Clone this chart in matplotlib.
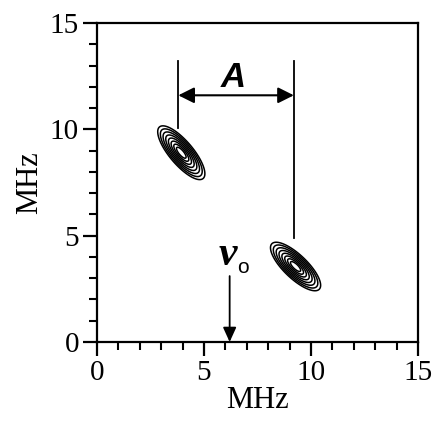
import numpy as np
import matplotlib.pyplot as plt
from matplotlib.ticker import MultipleLocator

plt.rcParams['font.family'] = ['Liberation Serif', 'DejaVu Serif']

# peak parameters (MHz): centre x, centre y, long sigma, short sigma, angle (deg)
peak_x = [3.94, 9.28]
peak_y = [8.9, 3.55]
sig_long = [0.72, 0.70]
sig_short = [0.25, 0.25]
angle = [-50.0, -44.0]
# contour levels, outermost to innermost
levels = [0.089, 0.149, 0.236, 0.349, 0.487, 0.637, 0.783, 0.904]

# annotation positions (MHz)
line_x = [3.8, 9.2]
line_top = 13.2
line_bottom = [10.05, 4.9]
arrow_y = 11.6
nu0_x = 6.2
nu0_top = 3.1

x = np.linspace(0, 15, 751)
y = np.linspace(0, 15, 751)
X, Y = np.meshgrid(x, y)

fig = plt.figure(figsize=(4.32, 4.25), dpi=100)
ax = fig.add_axes([0.2245, 0.1953, 0.743, 0.7506])

for i in range(len(peak_x)):
    th = np.deg2rad(angle[i])
    u = (X - peak_x[i]) * np.cos(th) + (Y - peak_y[i]) * np.sin(th)
    v = -(X - peak_x[i]) * np.sin(th) + (Y - peak_y[i]) * np.cos(th)
    Z = np.exp(-u**2 / (2 * sig_long[i]**2) - v**2 / (2 * sig_short[i]**2))
    ax.contour(X, Y, Z, levels=levels, colors='k', linewidths=1.1)

for i in range(2):
    ax.plot([line_x[i], line_x[i]], [line_top, line_bottom[i]], color='k', lw=1.3)

ax.annotate('', xy=(line_x[0], arrow_y), xytext=(line_x[1], arrow_y),
            arrowprops=dict(arrowstyle='<|-|>,head_length=0.6,head_width=0.3',
                            color='k', lw=1.5, mutation_scale=16,
                            shrinkA=0, shrinkB=0))
ax.text(6.38, 12.0, 'A', ha='center', va='baseline', fontsize=25,
        fontweight='bold', fontstyle='italic', family='Liberation Sans')

ax.annotate('', xy=(nu0_x, 0), xytext=(nu0_x, nu0_top),
            arrowprops=dict(arrowstyle='-|>,head_length=0.55,head_width=0.25',
                            color='k', lw=1.3, mutation_scale=16,
                            shrinkA=0, shrinkB=0))
ax.text(6.12, 3.62, '\u03bd', ha='center', va='baseline', fontsize=30,
        fontweight='bold', fontstyle='italic', family='Liberation Serif')
ax.text(6.82, 3.24, 'o', ha='center', va='baseline', fontsize=15,
        family='Liberation Sans')

ax.set_xlim(0, 15)
ax.set_ylim(0, 15)
ax.xaxis.set_major_locator(MultipleLocator(5))
ax.yaxis.set_major_locator(MultipleLocator(5))
ax.xaxis.set_minor_locator(MultipleLocator(1))
ax.yaxis.set_minor_locator(MultipleLocator(1))
ax.tick_params(which='major', direction='out', length=10, width=1.6,
               labelsize=21, pad=3)
ax.tick_params(which='minor', direction='out', length=5.5, width=1.5)
for s in ax.spines.values():
    s.set_linewidth(1.6)

ax.set_xlabel('MHz', fontsize=22, labelpad=0)
ax.set_ylabel('MHz', fontsize=22, labelpad=4)

fig.savefig('out.png', dpi=100)
